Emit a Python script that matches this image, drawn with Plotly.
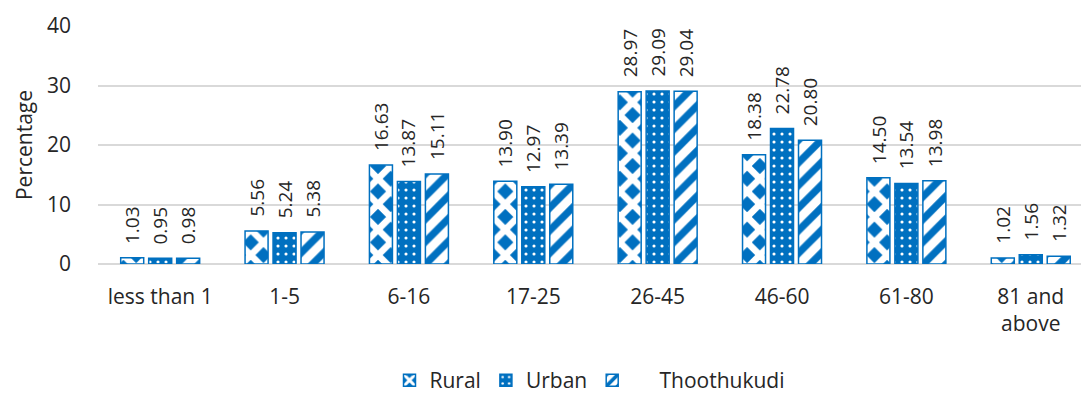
import plotly.graph_objects as go

# Age groups and percentage of population in each
categories = ["less than 1", "1-5", "6-16", "17-25", "26-45", "46-60", "61-80", "81 and<br>above"]
rural = [1.03, 5.56, 16.63, 13.90, 28.97, 18.38, 14.50, 1.02]
urban = [0.95, 5.24, 13.87, 12.97, 29.09, 22.78, 13.54, 1.56]
thoothukudi = [0.98, 5.38, 15.11, 13.39, 29.04, 20.80, 13.98, 1.32]
y_ticks = [0, 10, 20, 30, 40]

BLUE = "#0070C0"
FONT = "Open Sans"
TEXT = "#262626"

xs = list(range(len(categories)))
bar_w = 0.185
step = 0.225
centers = [-step, 0.0, step]

series = [
    ("Rural", rural, dict(shape="x", fgcolor="white", bgcolor=BLUE, size=18, solidity=0.6,
                          fgopacity=1, fillmode="replace")),
    ("Urban", urban, dict(shape=".", fgcolor="white", bgcolor=BLUE, size=8, solidity=0.12,
                          fgopacity=1, fillmode="replace")),
    ("\u00a0\u00a0\u00a0\u00a0\u00a0Thoothukudi", thoothukudi,
     dict(shape="/", fgcolor=BLUE, bgcolor="white", size=16, solidity=0.45,
          fgopacity=1, fillmode="replace")),
]

fig = go.Figure()
annotations = []
for (name, vals, pat), c in zip(series, centers):
    fig.add_trace(go.Bar(
        x=xs, y=vals, name=name,
        width=bar_w, offset=c - bar_w / 2,
        marker=dict(color=BLUE, pattern=pat, line=dict(color=BLUE, width=1.5)),
    ))
    for xi, v in zip(xs, vals):
        annotations.append(dict(
            x=xi + c, y=v, xref="x", yref="y", text=f"{v:.2f}",
            textangle=-90, showarrow=False, yanchor="bottom", xanchor="center",
            yshift=12, font=dict(family=FONT, size=19, color=TEXT),
        ))

fig.update_layout(
    width=1081, height=393,
    margin=dict(l=98, r=0, t=26, b=129, autoexpand=False),
    paper_bgcolor="white", plot_bgcolor="white",
    barmode="overlay",
    font=dict(family=FONT, size=21, color=TEXT),
    annotations=annotations,
    showlegend=True,
    legend=dict(orientation="h", x=0.5, xanchor="center", y=-0.49, yanchor="middle",
                font=dict(family=FONT, size=21, color=TEXT), itemwidth=30),
    xaxis=dict(
        tickmode="array", tickvals=xs, ticktext=categories, automargin=False,
        range=[-0.5, 7.404], showgrid=False, zeroline=False, showline=False,
        ticks="", ticklabelstandoff=18, tickfont=dict(family=FONT, size=21, color=TEXT),
    ),
    yaxis=dict(
        range=[0, 40], tickvals=y_ticks, showgrid=True, gridcolor="#d9d9d9", gridwidth=1.5,
        zeroline=True, zerolinecolor="#d9d9d9", zerolinewidth=1.5, showline=False,
        automargin=False,
        ticks="", ticklabelstandoff=26, tickfont=dict(family=FONT, size=21, color=TEXT),
        title=dict(text="Percentage", font=dict(family=FONT, size=21, color=TEXT), standoff=8),
    ),
)

fig.write_html("out.html")
